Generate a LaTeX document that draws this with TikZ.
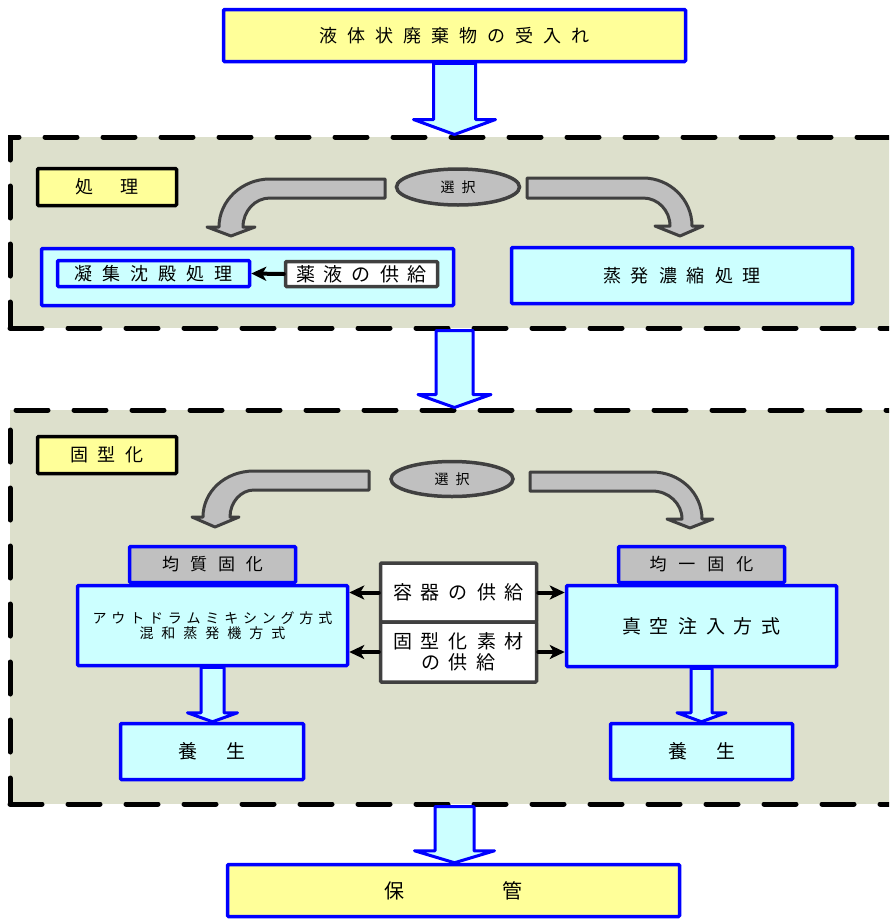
\documentclass[tikz,border=0pt]{standalone}
\usepackage{fontspec}
\setmainfont{Noto Sans CJK JP}
\usetikzlibrary{arrows.meta,shapes.geometric,calc}
\definecolor{panelbg}{RGB}{221,224,204}
\definecolor{cyanfill}{RGB}{204,255,255}
\definecolor{yelfill}{RGB}{255,255,153}
\definecolor{grayfill}{RGB}{192,192,192}
\definecolor{darkline}{RGB}{64,64,64}
\makeatletter
\newcommand\spacedtext[2]{\def\spr@sep{\hspace*{#1}}\spr@first#2\spr@stop}
\def\spr@stop{\spr@stop}
\def\spr@first#1{#1\spr@rest}
\def\spr@rest#1{\ifx#1\spr@stop\else\spr@sep#1\expandafter\spr@rest\fi}
\makeatother
\newcommand\fsz[1]{\fontsize{#1pt}{#1pt}\selectfont}
\newcommand\blockarrow[6]{%
  \path[#6] let \p1=(#1), \p2=(#2) in
    (\x1-#3,\y1) -- (\x1+#3,\y1) -- (\x1+#3,\y2+#5) -- (\x1+#4,\y2+#5)
    -- (\x1,\y2) -- (\x1-#4,\y2+#5) -- (\x1-#3,\y2+#5) -- cycle;}
\tikzset{
  panel/.style={draw=black, line width=5pt, dash pattern=on 32pt off 26pt,
    line cap=round, fill=panelbg, inner sep=0pt},
  bluebox/.style={draw=blue, line width=3.5pt, fill=cyanfill, rounded corners=1pt,
    inner sep=0pt, text=black},
  blackbox/.style={draw=black, line width=3.5pt, fill=yelfill, rounded corners=1pt,
    inner sep=0pt},
  supplybox/.style={draw=darkline, line width=3.5pt, fill=white, rounded corners=1pt,
    inner sep=0pt, align=center},
  tabbox/.style={draw=blue, line width=3.5pt, fill=grayfill, rounded corners=1pt,
    inner sep=0pt},
  selectell/.style={ellipse, draw=darkline, line width=3.5pt, fill=grayfill, inner sep=0pt},
  bigarrow/.style={draw=blue, line width=3pt, fill=cyanfill, line join=round},
  bentarrow/.style={draw=darkline, line width=3pt, fill=grayfill, line join=round},
  blackarrow/.style={draw=black, line width=4pt, line cap=round,
    -{Stealth[length=15pt,width=14pt,inset=4pt]}},
}
\begin{document}
\begin{tikzpicture}[x=1pt,y=-1pt]
\path[use as bounding box] (0,0) rectangle (889,921);
\clip (0,0) rectangle (889,921);

% panels
\node[panel, minimum width=895pt, minimum height=191pt] (p1) at (457.5,232.5) {};
\node[panel, minimum width=895pt, minimum height=394pt] (p2) at (457.5,607) {};

% top box
\node[bluebox, fill=yelfill, minimum width=462pt, minimum height=52pt] (top) at (454.5,35.5)
  {\fsz{18}\spacedtext{10pt}{液体状廃棄物の受入れ}};

% panel 1 content
\node[blackbox, minimum width=139pt, minimum height=37pt] (shori) at (107,187)
  {\fsz{18}処\hspace{27pt}理};
\node[selectell, minimum width=123pt, minimum height=36pt] (sel1) at (458,187)
  {\fsz{14}\spacedtext{7pt}{選択}};
\path[bentarrow] (385,179) -- (270,179) .. controls (242,179) and (219,200.5) .. (219,227)
  -- (207,227) -- (231,236) -- (255,227) -- (243,227)
  .. controls (243,211) and (255,198) .. (270,198) -- (385,198) -- cycle;
\path[bentarrow] (527,178) -- (643,178) .. controls (670,178) and (692,199.5) .. (692,226)
  -- (703,226) -- (680,236) -- (655,226) -- (670,226)
  .. controls (670,210.5) and (658,198) .. (643,198) -- (527,198) -- cycle;

\node[bluebox, minimum width=412pt, minimum height=57pt] (gyoshubox) at (247.5,277) {};
\node[bluebox, minimum width=192pt, minimum height=26pt] (gyoshu) at (153.5,273.5)
  {\fsz{18}\spacedtext{10pt}{凝集沈殿処理}};
\node[supplybox, minimum width=152pt, minimum height=25pt] (yakueki) at (361.5,274)
  {\fsz{19}\spacedtext{9pt}{薬液の供給}};
\draw[blackarrow] (yakueki.west) -- (gyoshu.east);
\node[bluebox, minimum width=341pt, minimum height=56pt] (jouhatsu) at (682,275.5)
  {\fsz{18}\spacedtext{10pt}{蒸発濃縮処理}};

% panel 2 content
\node[blackbox, minimum width=139pt, minimum height=37pt] (kokei) at (107,455)
  {\fsz{18}\spacedtext{10pt}{固型化}};
\node[selectell, minimum width=122pt, minimum height=35pt] (sel2) at (452,479)
  {\fsz{14}\spacedtext{7pt}{選択}};
\path[bentarrow] (369,471) -- (254,471) .. controls (225,471) and (203,491.6) .. (203,517)
  -- (192,517) -- (215,527) -- (239,517) -- (230,517)
  .. controls (230,502) and (241,490) .. (254,490) -- (369,490) -- cycle;
\path[bentarrow] (530,472) -- (652,472) .. controls (680,472) and (702,493) .. (702,519)
  -- (713,519) -- (690,528) -- (667,519) -- (682,519)
  .. controls (682,503.5) and (668.5,491) .. (652,491) -- (530,491) -- cycle;

\node[tabbox, minimum width=166pt, minimum height=36pt] (kinshitsu) at (212.5,564.5)
  {\fsz{17}\spacedtext{11pt}{均質固化}};
\node[bluebox, minimum width=270pt, minimum height=80pt, align=center] (leftmain) at (212.5,625.5)
  {\fsz{14}\spacedtext{4.8pt}{アウトドラムミキシング方式}\\[1pt]
   \fsz{14}\spacedtext{8pt}{混和蒸発機方式}};
\node[tabbox, minimum width=166pt, minimum height=36pt] (kinitsu) at (701.5,564.5)
  {\fsz{17}\spacedtext{12pt}{均一固化}};
\node[bluebox, minimum width=270pt, minimum height=81pt] (rightmain) at (701.5,626)
  {\fsz{19}\spacedtext{9pt}{真空注入方式}};

\node[supplybox, minimum width=156pt, minimum height=59pt] (youki) at (458.5,592.5)
  {\fsz{19}\spacedtext{9pt}{容器の供給}};
\node[supplybox, minimum width=156pt, minimum height=60pt] (sozai) at (458.5,652)
  {\fsz{19}\spacedtext{9pt}{固型化素材}\\[3pt]\fsz{19}\spacedtext{9pt}{の供給}};
\draw[blackarrow] (youki.west) -- (leftmain.east |- youki.west);
\draw[blackarrow] (youki.east) -- (rightmain.west |- youki.east);
\draw[blackarrow] (sozai.west) -- (leftmain.east |- sozai.west);
\draw[blackarrow] (sozai.east) -- (rightmain.west |- sozai.east);

\node[bluebox, minimum width=183pt, minimum height=56pt] (youjouL) at (212,751.5)
  {\fsz{19}養\hspace{29pt}生};
\node[bluebox, minimum width=182pt, minimum height=56pt] (youjouR) at (701.5,751.5)
  {\fsz{19}養\hspace{29pt}生};
\blockarrow{leftmain.south}{youjouL.north}{11.5pt}{25pt}{9pt}{bigarrow}
\blockarrow{rightmain.south}{youjouR.north}{10.5pt}{24.5pt}{9pt}{bigarrow}

% bottom
\node[bluebox, fill=yelfill, minimum width=452pt, minimum height=52pt] (hokan) at (453.5,890.5)
  {\fsz{20}保\hspace{98pt}管};

% main flow arrows
\blockarrow{top.south}{top.south |- p1.north}{21pt}{41pt}{15pt}{bigarrow}
\blockarrow{top.south |- p1.south}{top.south |- p2.north}{18.5pt}{36.5pt}{13pt}{bigarrow}
\blockarrow{top.south |- p2.south}{hokan.north}{19.5pt}{40pt}{12pt}{bigarrow}
\end{tikzpicture}
\end{document}
